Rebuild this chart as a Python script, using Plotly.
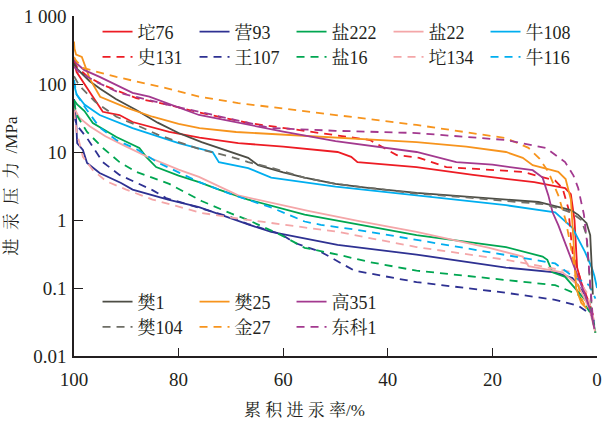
import plotly.graph_objects as go

# ---------------- data (x = cumulative mercury saturation %, y = pressure MPa) ----------------
tuo76_x = [100, 99.5, 97, 94.5, 91.3, 88.8, 81.8, 76, 68.6, 60, 49.6, 47, 45.8, 40, 34.5, 23.7, 12, 6.1, 5, 4.3, 3.8, 3, 1.5, 0.8]
tuo76_y = [210, 150, 76, 39, 35, 27.6, 19.7, 16.3, 13.5, 12, 10, 8.5, 7.1, 6.5, 6.0, 4.6, 3.6, 2.95, 2.4, 1.0, 0.2, 0.12, 0.06, 0.04]

shi131_x = [100, 99.5, 97.5, 94.5, 88.1, 81.8, 76, 66.7, 55, 43.4, 38.3, 34, 28.8, 20, 14.2, 8, 6.6, 5.5, 4.7, 3, 1.5, 0.8]
shi131_y = [220, 180, 130, 97, 62, 49, 38, 26.7, 20, 15, 9, 8.2, 6, 5.5, 5.1, 3.8, 2.95, 1.5, 0.34, 0.12, 0.06, 0.04]

ying93_x = [100, 99.6, 99.4, 98.3, 97.5, 95.1, 91, 88.8, 82, 76.1, 66.7, 62.3, 49.6, 34.5, 17.4, 8, 4.7, 2.3, 1, 0.5]
ying93_y = [60, 30, 13.5, 10.7, 6.9, 4.9, 3.5, 2.8, 2.0, 1.55, 0.86, 0.67, 0.43, 0.31, 0.2, 0.17, 0.14, 0.08, 0.04, 0.028]

wang107_x = [100, 99.5, 97.5, 94.5, 91.3, 85, 82.4, 76, 70, 66.7, 60.4, 57.8, 52.8, 46.4, 34.5, 17.4, 8, 3.6, 1, 0.3]
wang107_y = [35, 25, 16, 7.1, 4.6, 2.75, 2.1, 1.5, 1.1, 0.87, 0.62, 0.46, 0.34, 0.18, 0.122, 0.085, 0.067, 0.055, 0.04, 0.028]

yan222_x = [100, 99.4, 98, 96.4, 91.9, 87.5, 86.2, 84.3, 80, 76.1, 72.3, 66.7, 55.9, 45, 34.5, 17.4, 10.4, 9.5, 8.5, 6.1, 3.6, 1.3, 0.3]
yan222_y = [58, 50, 40, 26.7, 16.6, 11.5, 8.5, 6.0, 4.5, 3.6, 2.8, 2.0, 1.2, 0.85, 0.6, 0.4, 0.29, 0.26, 0.17, 0.146, 0.087, 0.055, 0.022]

yan16_x = [100, 99.5, 97.5, 94.5, 91.3, 88.1, 81.8, 75.6, 70, 66.7, 60.4, 55.9, 49.6, 43.4, 34.5, 17.4, 8, 3.6, 1, 0.3]
yan16_y = [55, 35, 19.7, 11.5, 7.1, 5.1, 3.4, 1.9, 1.25, 1.0, 0.6, 0.39, 0.31, 0.24, 0.18, 0.13, 0.11, 0.08, 0.04, 0.022]

yan22_x = [100, 99, 97, 94, 90, 86, 80, 76.1, 68.6, 55, 45, 34.5, 20.6, 14.2, 13.1, 10, 6.6, 3.6, 1.5, 0.3]
yan22_y = [45, 32, 24, 17, 12, 8.5, 5.5, 4.3, 2.3, 1.35, 0.95, 0.67, 0.39, 0.29, 0.21, 0.19, 0.17, 0.11, 0.05, 0.022]

tuo134_x = [100, 99.5, 98.3, 96.4, 93.8, 90, 85, 75.6, 68.6, 62.3, 49.6, 34.5, 17.4, 9.3, 4.7, 2, 0.3]
tuo134_y = [40, 20, 8.5, 5.4, 3.7, 2.8, 2.0, 1.27, 1.05, 0.9, 0.67, 0.4, 0.26, 0.2, 0.17, 0.087, 0.028]

niu108_x = [100, 99.5, 98, 95.1, 88.8, 80, 76, 73.5, 72.3, 66.7, 62.3, 50, 34.5, 17.4, 8, 4.7, 2.3, 1, 0.5, 0]
niu108_y = [100, 70, 50, 35, 22.5, 13.5, 11.2, 10, 7.1, 5.8, 4.2, 3.1, 2.3, 1.65, 1.3, 0.77, 0.34, 0.2, 0.15, 0.1]

niu116_x = [100, 99.5, 97.5, 95.1, 91.9, 88, 84, 80, 76, 70, 62, 55.9, 52.8, 45, 34.5, 17.4, 8, 4.7, 1.5, 0.3]
niu116_y = [115, 70, 41, 23, 15, 11, 7, 5, 3.6, 2.4, 1.5, 0.95, 0.85, 0.7, 0.51, 0.31, 0.23, 0.15, 0.11, 0.07]

fan1_x = [100, 99.5, 97, 95, 92, 88.1, 84, 80, 75.6, 70, 66.7, 64.8, 60, 55.9, 50, 43.4, 34.5, 25, 11.2, 5, 3.6, 2, 1.3, 1, 0.8]
fan1_y = [200, 170, 110, 85, 60, 41.5, 27, 19, 14, 10, 8.2, 6.4, 5, 4.2, 3.4, 2.95, 2.5, 2.2, 1.84, 1.4, 1.19, 0.9, 0.6, 0.2, 0.08]

fan104_x = [100, 99, 96, 91.9, 88.1, 84, 80, 76, 70, 66.7, 62, 56, 50, 43, 34.5, 25, 15, 10, 5, 3, 2, 1.5, 1]
fan104_y = [130, 95, 55, 33, 25, 18, 14, 11, 8.5, 7.1, 5.8, 4.2, 3.4, 2.9, 2.45, 2.15, 1.85, 1.7, 1.3, 1.0, 0.6, 0.15, 0.05]

fan25_x = [100, 99.9, 99.6, 98.5, 97, 95, 90, 85, 80, 76, 69, 60, 50, 40, 34.5, 25, 17.4, 14.2, 12.3, 9, 7.4, 6, 5, 4.5, 4, 3, 2]
fan25_y = [420, 330, 270, 250, 120, 65, 45, 33, 26, 22.5, 19.7, 18, 16, 14.5, 14, 12, 10, 8.2, 6.4, 5.5, 5.1, 4, 2, 0.5, 0.1, 0.06, 0.05]

jin27_x = [100, 99.6, 98.3, 91.9, 82.4, 76.1, 68.6, 49.6, 34.5, 17.4, 13.1, 11, 9.3, 7.4, 6, 5, 4, 3, 2]
jin27_y = [250, 220, 172, 127, 87, 65, 52.5, 35, 25, 16, 11.5, 8, 5.1, 2.3, 1.0, 0.4, 0.15, 0.07, 0.05]

gao351_x = [100, 99.5, 98, 95.1, 88.8, 85.6, 76.1, 68.6, 60, 50, 34.5, 26.9, 20, 12.3, 10.4, 9.3, 8.5, 7.4, 6, 4.7, 2.3, 1, 0.5]
gao351_y = [230, 200, 160, 127, 74, 65, 35, 26.7, 20, 14.5, 10, 7.1, 6.5, 5.4, 4.2, 2.3, 1.3, 0.84, 0.45, 0.24, 0.08, 0.04, 0.025]

dongke1_x = [100, 99, 96, 91.3, 81.8, 66.7, 62.3, 50, 34.5, 17.4, 9.8, 6.1, 4.5, 3.6, 2.5, 1.9, 1.2, 0.8]
dongke1_y = [180, 150, 110, 74, 49, 26.7, 22.5, 20.5, 19, 15, 11.5, 7.1, 4.5, 2.95, 1.2, 0.47, 0.1, 0.036]

# tick labels
y_tickvals = [0.01, 0.1, 1, 10, 100, 1000]
y_ticktext = ["0.01", "0.1", "1", "10", "100", "1 000"]
x_tickvals = [100, 80, 60, 40, 20, 0]

# ---------------- styling ----------------
RED, NAVY, GREEN, PINK, SKY = "#ED1C24", "#2E3192", "#00A651", "#F4A6A8", "#00AEEF"
GRAY, ORANGE, PURPLE = "#4D4D45", "#F7941D", "#A3398F"
DASH = "8px,6px"
FONT = "'Liberation Serif', 'Noto Serif CJK SC', 'Noto Sans CJK SC', serif"
TXT = "#231F20"

series = [
    ("坨76", tuo76_x, tuo76_y, RED, "solid", "legend"),
    ("营93", ying93_x, ying93_y, NAVY, "solid", "legend"),
    ("盐222", yan222_x, yan222_y, GREEN, "solid", "legend"),
    ("盐22", yan22_x, yan22_y, PINK, "solid", "legend"),
    ("牛108", niu108_x, niu108_y, SKY, "solid", "legend"),
    ("史131", shi131_x, shi131_y, RED, DASH, "legend2"),
    ("王107", wang107_x, wang107_y, NAVY, DASH, "legend2"),
    ("盐16", yan16_x, yan16_y, GREEN, DASH, "legend2"),
    ("坨134", tuo134_x, tuo134_y, PINK, DASH, "legend2"),
    ("牛116", niu116_x, niu116_y, SKY, DASH, "legend2"),
    ("樊1", fan1_x, fan1_y, GRAY, "solid", "legend3"),
    ("樊25", fan25_x, fan25_y, ORANGE, "solid", "legend3"),
    ("高351", gao351_x, gao351_y, PURPLE, "solid", "legend3"),
    ("樊104", fan104_x, fan104_y, "#6E6E66", DASH, "legend4"),
    ("金27", jin27_x, jin27_y, ORANGE, DASH, "legend4"),
    ("东科1", dongke1_x, dongke1_y, PURPLE, DASH, "legend4"),
]

fig = go.Figure()
for name, xs, ys, color, dash, lg in series:
    fig.add_trace(go.Scatter(
        x=xs, y=ys, mode="lines", name=name, legend=lg,
        line=dict(color=color, width=1.8, dash=dash),
    ))

def leg(ypos):
    return dict(
        orientation="h", x=0.045, xanchor="left", y=ypos, yanchor="middle",
        entrywidth=52, entrywidthmode="pixels", bgcolor="rgba(0,0,0,0)",
        font=dict(family=FONT, size=18, color=TXT), borderwidth=0,
        itemclick=False, itemdoubleclick=False,
    )

fig.update_layout(
    width=607, height=423,
    margin=dict(l=74, r=5, t=16, b=67),
    paper_bgcolor="white", plot_bgcolor="white",
    font=dict(family=FONT, size=16, color=TXT),
    legend=leg(0.953), legend2=leg(0.879), legend3=leg(0.159), legend4=leg(0.085),
    xaxis=dict(
        range=[100, 0], tickvals=x_tickvals, ticks="inside", ticklen=8, tickwidth=1.3,
        tickcolor=TXT, showline=True, linecolor=TXT, linewidth=1.5, showgrid=False,
        zeroline=False, tickfont=dict(family=FONT, size=19, color=TXT),
        ticklabelstandoff=5,
    ),
    yaxis=dict(
        type="log", range=[-2, 3], tickvals=y_tickvals, ticktext=y_ticktext,
        ticks="inside", ticklen=9, tickwidth=1.3, tickcolor=TXT,
        showline=True, linecolor=TXT, linewidth=1.5, showgrid=False, zeroline=False,
        tickfont=dict(family=FONT, size=19, color=TXT), ticklabelstandoff=2,
        title=dict(text="进\u2002汞\u2002压\u2002力\u2002/MPa",
                   font=dict(family=FONT, size=17, color=TXT), standoff=2),
    ),
    annotations=[dict(
        text="累\u2005积\u2005进\u2005汞\u2005率/%", xref="paper", yref="paper",
        x=0.441, y=-0.16, xanchor="center", yanchor="middle", showarrow=False,
        font=dict(family=FONT, size=17, color=TXT), borderpad=0,
    )],
)

fig.write_html("out.html")
